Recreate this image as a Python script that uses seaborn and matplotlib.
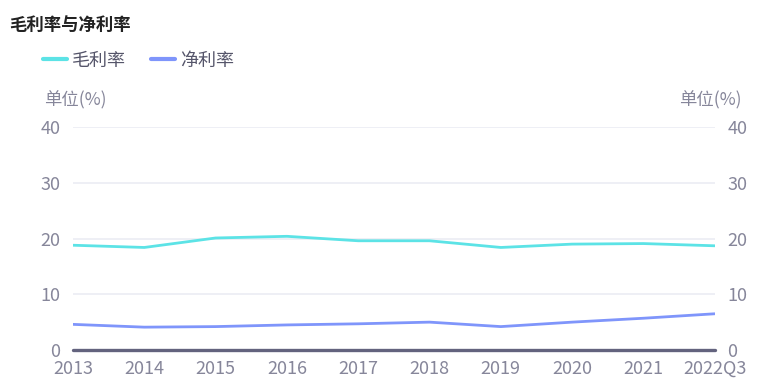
import pandas as pd
import matplotlib.pyplot as plt
import seaborn as sns

sns.set_style("white")
plt.rcParams["font.family"] = ["Noto Sans CJK SC", "DejaVu Sans"]

# ---------------------------------------------------------------------
# Data
# ---------------------------------------------------------------------
periods = ["2013", "2014", "2015", "2016", "2017", "2018", "2019", "2020", "2021", "2022Q3"]
gross_margin = [18.8, 18.4, 20.1, 20.4, 19.6, 19.6, 18.4, 19.0, 19.1, 18.7]
net_margin = [4.6, 4.1, 4.2, 4.5, 4.7, 5.0, 4.2, 5.0, 5.7, 6.5]
y_ticks = [0, 10, 20, 30, 40]

CYAN = "#5ce3e6"
BLUE = "#7f95fb"
GREY = "#86869a"

df = pd.DataFrame({"period": periods, "毛利率": gross_margin, "净利率": net_margin})
long_df = df.melt(id_vars="period", var_name="series", value_name="value")

fig = plt.figure(figsize=(7.63, 3.87), dpi=100)
ax = fig.add_axes([0.0957, 0.0956, 0.841, 0.576])

sns.lineplot(data=long_df, x="period", y="value", hue="series",
             palette={"毛利率": CYAN, "净利率": BLUE}, linewidth=2, ax=ax, legend=False)

ax.set_xlim(0, len(periods) - 1)
ax.set_ylim(0, 40)
ax.set_yticks(y_ticks)
ax.set_xlabel("")
ax.set_ylabel("")
for t in y_ticks[1:]:
    ax.axhline(t, color="#edeef5", linewidth=1.3, zorder=0)
ax.axhline(0, color="#63637e", linewidth=2.4, zorder=3, clip_on=False)
for s in ax.spines.values():
    s.set_visible(False)
ax.tick_params(axis="both", length=0, labelsize=13, labelcolor=GREY)
ax.tick_params(axis="y", pad=9)
ax.tick_params(axis="x", pad=7)

ax2 = ax.twinx()
ax2.set_ylim(0, 40)
ax2.set_yticks(y_ticks)
for s in ax2.spines.values():
    s.set_visible(False)
ax2.tick_params(axis="y", length=0, labelsize=13, labelcolor=GREY, pad=9)

# Unit labels
fig.text(0.058, 0.742, "单位(%)", fontsize=12.5, color=GREY, va="center")
fig.text(0.890, 0.742, "单位(%)", fontsize=12.5, color=GREY, va="center")

# Title
fig.text(0.012, 0.935, "毛利率与净利率", fontsize=12.5, fontweight="bold", color="#222222", va="center")

# Legend
handles = [plt.Line2D([], [], color=CYAN, linewidth=3),
           plt.Line2D([], [], color=BLUE, linewidth=3)]
fig.legend(handles, ["毛利率", "净利率"], loc="center left", bbox_to_anchor=(0.035, 0.843),
           ncol=2, frameon=False, fontsize=13, labelcolor="#55556a",
           handlelength=1.35, handletextpad=0.25, columnspacing=1.4)

fig.savefig("out.png", dpi=100)
